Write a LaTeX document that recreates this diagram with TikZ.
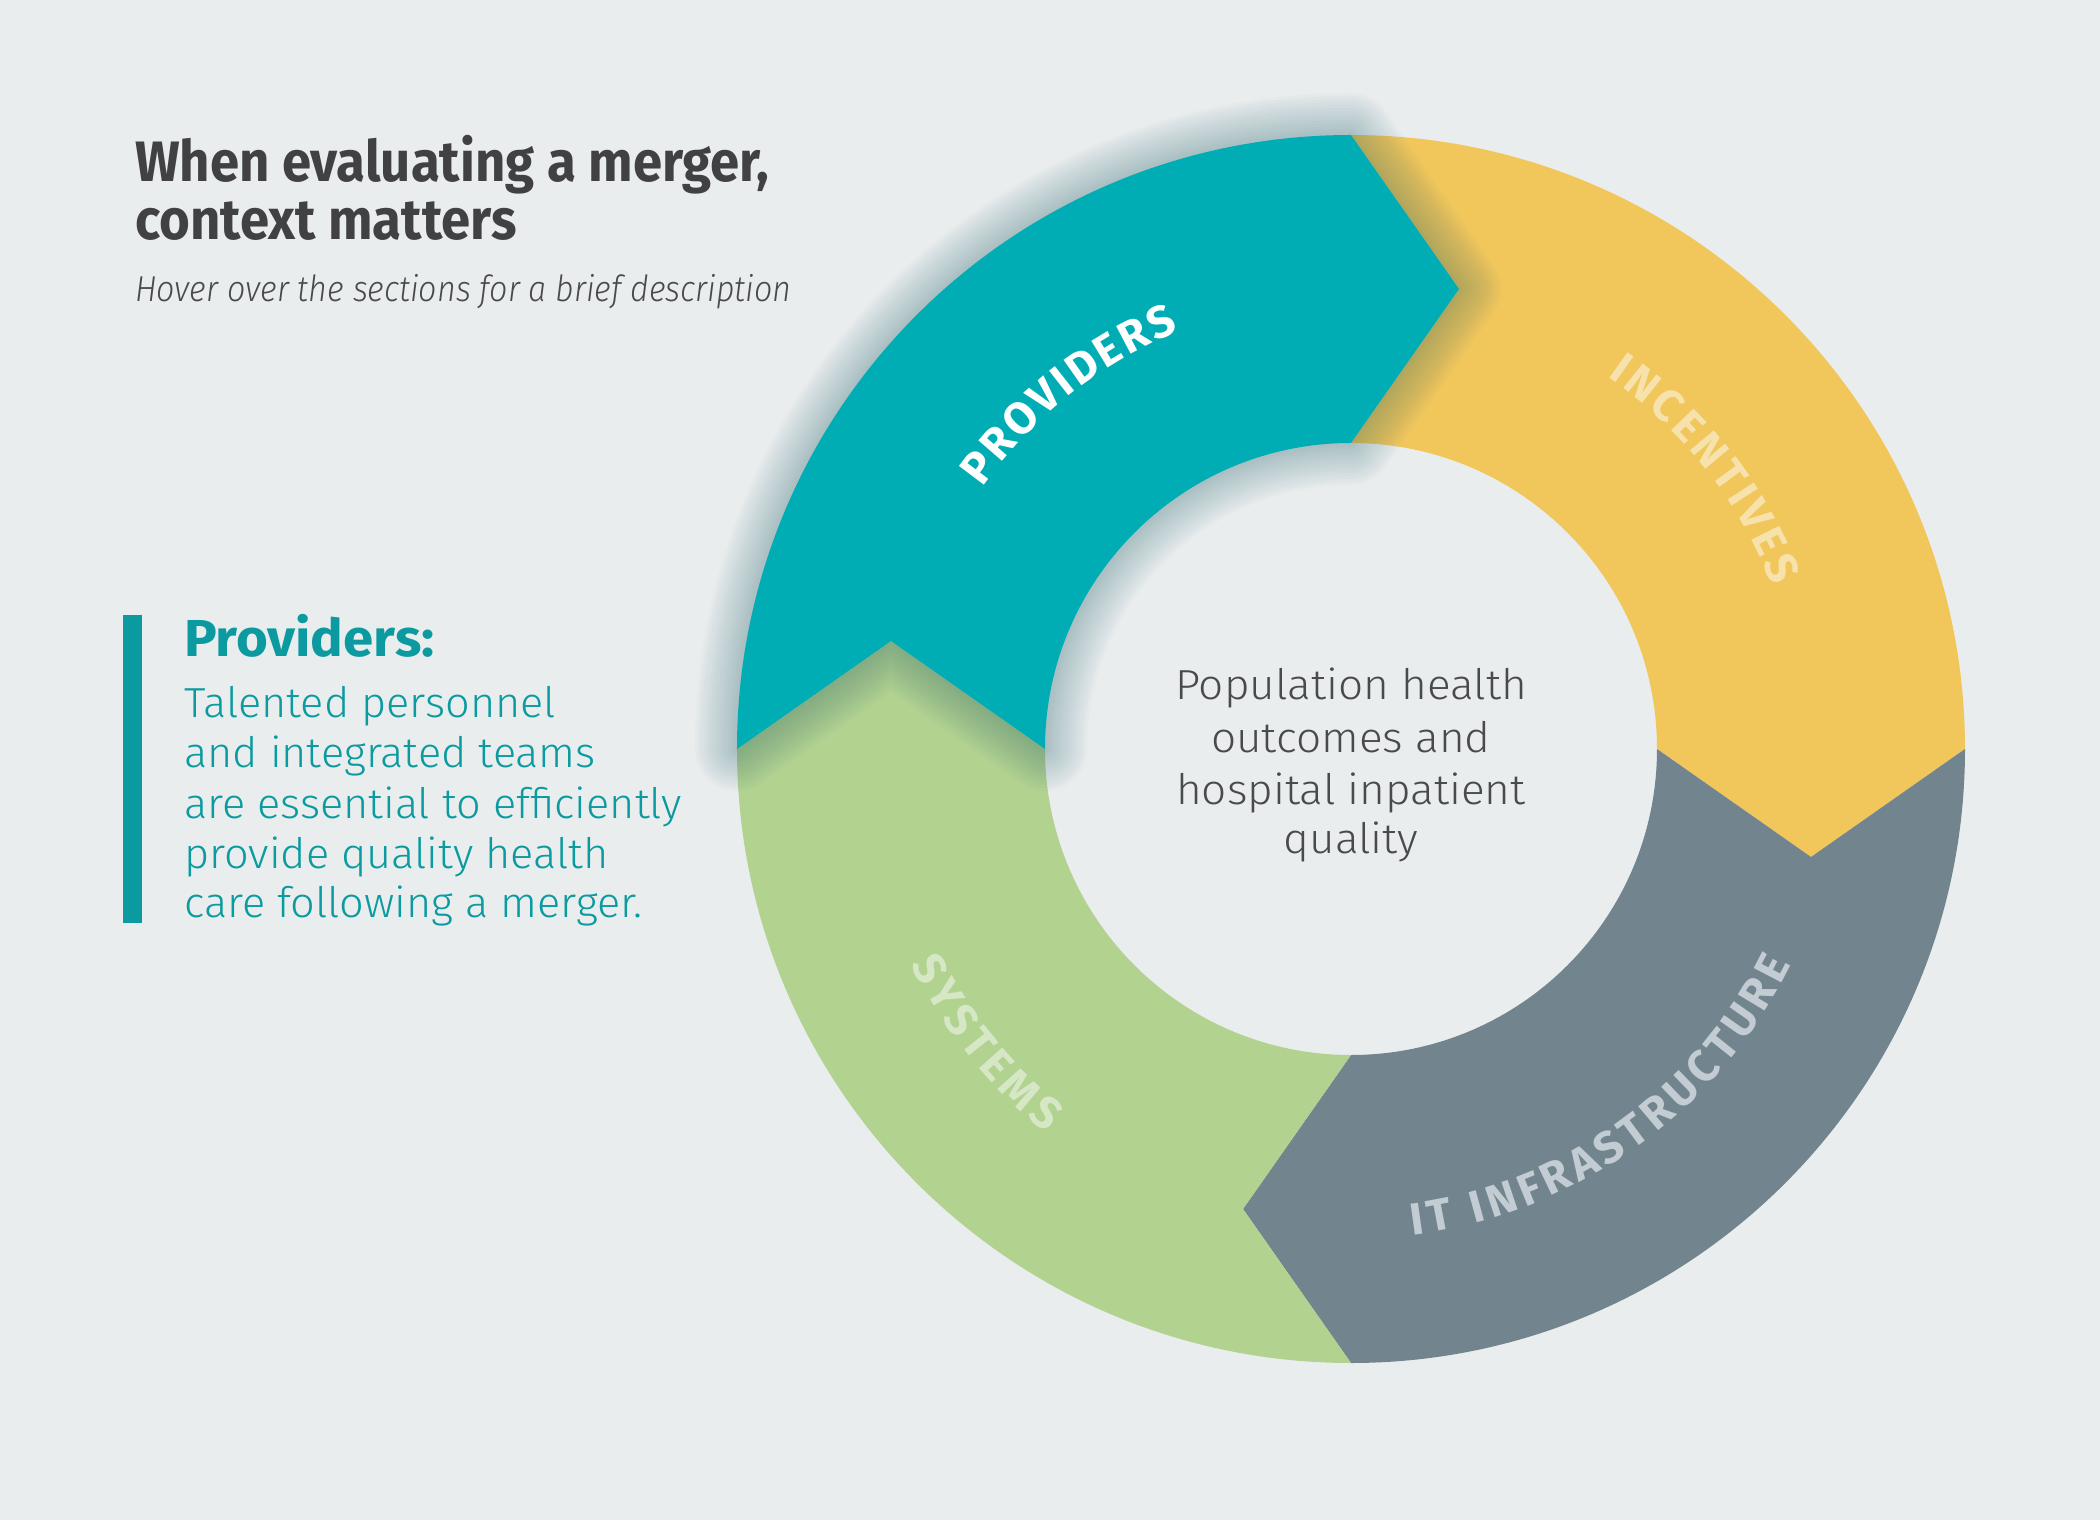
\documentclass[tikz,border=0pt]{standalone}
\usepackage{fontspec}
\setmainfont{Fira Sans}
\newfontfamily\titlefam[FakeStretch=0.925]{Fira Sans}
\newfontfamily\subfam[FakeStretch=0.895]{Fira Sans Light Italic}
\newfontfamily\headfam[FakeStretch=1.05]{Fira Sans}
\newfontfamily\bodyfam[FakeStretch=1.03]{Fira Sans Light}
\newfontfamily\centfam[FakeStretch=1.05]{Fira Sans Light}
\newfontfamily\segfam{Fira Sans}
\newcommand\titlefont{\titlefam\bfseries\fontsize{57pt}{58pt}\selectfont}
\newcommand\subfont{\subfam\fontsize{36pt}{40pt}\selectfont}
\newcommand\headfont{\headfam\bfseries\fontsize{52pt}{52pt}\selectfont}
\newcommand\bodyfont{\bodyfam\fontsize{42pt}{50pt}\selectfont}
\newcommand\centfont{\centfam\fontsize{42pt}{52pt}\selectfont}
\newcommand\segfont{\segfam\bfseries\fontsize{45pt}{45pt}\selectfont}
\usetikzlibrary{calc}
\definecolor{bgc}{HTML}{E9EDEE}
\definecolor{tealc}{HTML}{00ADB4}
\definecolor{yellowc}{HTML}{F1C75C}
\definecolor{grayc}{HTML}{72848E}
\definecolor{greenc}{HTML}{B2D290}
\definecolor{tealtext}{HTML}{0A9A9F}
\definecolor{titlec}{HTML}{414143}
\definecolor{bodyc}{HTML}{4A4A4C}
\definecolor{glowc}{HTML}{24646B}
\definecolor{inclab}{HTML}{F7E2AC}
\definecolor{itlab}{HTML}{C2CCD2}
\definecolor{syslab}{HTML}{D5E7C4}
\newdimen\chlen
\newcommand\measurech[1]{\pgfinterruptpicture\setbox0=\hbox{\segfont #1}\global\chlen=\wd0\relax\endpgfinterruptpicture}
% #1 baseline radius, #2 mid angle, #3 direction (1 clockwise, -1 counter-clockwise),
% #4 colour, #5 name prefix, #6 letters, #7 tracking
\newcommand\arclabel[7]{%
  \gdef\arctot{0}%
  \foreach \ch in {#6}{%
    \measurech{\ch}%
    \pgfmathsetmacro\tmpv{\arctot+\the\chlen+#7}%
    \xdef\arctot{\tmpv}%
  }%
  \pgfmathsetmacro\tmpv{\arctot-#7}\xdef\arctot{\tmpv}%
  \pgfmathsetmacro\tmpv{#2+(#3)*(\arctot/2)/#1*180/pi}\xdef\arccur{\tmpv}%
  \foreach \ch [count=\k] in {#6}{%
    \measurech{\ch}%
    \pgfmathsetmacro\lang{\arccur-(#3)*(\the\chlen/2)/#1*180/pi}%
    \pgfmathsetmacro\lrot{\lang-(#3)*90}%
    \node[segletter, text=#4, rotate=\lrot] (#5-\k) at (\lang:#1pt) {\ch};
    \pgfmathsetmacro\tmpv{\arccur-(#3)*(\the\chlen+#7)/#1*180/pi}%
    \xdef\arccur{\tmpv}%
  }%
}
\begin{document}
\begin{tikzpicture}[x=1pt,y=1pt,
  seg/.style n args={3}{insert path={(#1:614pt) arc[start angle=#1, end angle=#2, radius=614pt]
     -- ($(#2:460pt)+(#3:108pt)$) -- (#2:306pt) arc[start angle=#2, end angle=#1, radius=306pt]
     -- ($(#1:460pt)+(#2:108pt)$) -- cycle}},
  segletter/.style={font=\segfont, inner sep=0pt, anchor=base},
  leftline/.style={anchor=base west, inner sep=0pt},
  centline/.style={anchor=base, inner sep=0pt, font=\centfont, text=bodyc}]
\useasboundingbox (-1351,-771) rectangle (749,749);
\fill[bgc] (-1351,-771) rectangle (749,749);
% segments
\fill[yellowc, seg={90}{0}{-90}];
\fill[grayc, seg={0}{-90}{-180}];
\fill[greenc, seg={-90}{-180}{-270}];
\foreach \w in {6,12,...,84}{
  \draw[glowc, line width=\w pt, opacity=0.024, line join=round, seg={180}{90}{0}];
}
\fill[tealc, seg={180}{90}{0}];
% ring labels
\arclabel{452}{128.5}{1}{white}{prov}{P,R,O,V,I,D,E,R,S}{3}
\arclabel{452}{38.3}{1}{inclab}{inc}{I,N,C,E,N,T,I,V,E,S}{4}
\arclabel{490}{-54.4}{-1}{itlab}{itinf}{I,T,~,I,N,F,R,A,S,T,R,U,C,T,U,R,E}{5}
\arclabel{490}{218.8}{-1}{syslab}{sys}{S,Y,S,T,E,M,S}{5}
% centre text
\node[centline] (c1) at (0,49) {Population health};
\node[centline] (c2) at (0,-3) {outcomes and};
\node[centline] (c3) at (0,-55) {hospital inpatient};
\node[centline] (c4) at (0,-104) {quality};
% title
\node[leftline, font=\titlefont, text=titlec] (t1) at (-1216,567) {When evaluating a merger,};
\node[leftline, font=\titlefont, text=titlec] (t2) at (-1216,509) {context matters};
\node[leftline, font=\subfont, text=bodyc] (sub) at (-1216,447) {Hover over the sections for a brief description};
% description
\fill[tealtext] (-1228,134) rectangle (-1209,-174);
\node[leftline, font=\headfont, text=tealtext] (head) at (-1167,92) {Providers:};
\node[leftline, font=\bodyfont, text=tealtext] (b1) at (-1167,31) {Talented personnel};
\node[leftline, font=\bodyfont, text=tealtext] (b2) at (-1167,-18) {and integrated teams};
\node[leftline, font=\bodyfont, text=tealtext] (b3) at (-1167,-69) {are essential to efficiently};
\node[leftline, font=\bodyfont, text=tealtext] (b4) at (-1167,-119) {provide quality health};
\node[leftline, font=\bodyfont, text=tealtext] (b5) at (-1167,-168) {care following a merger.};
\end{tikzpicture}
\end{document}
